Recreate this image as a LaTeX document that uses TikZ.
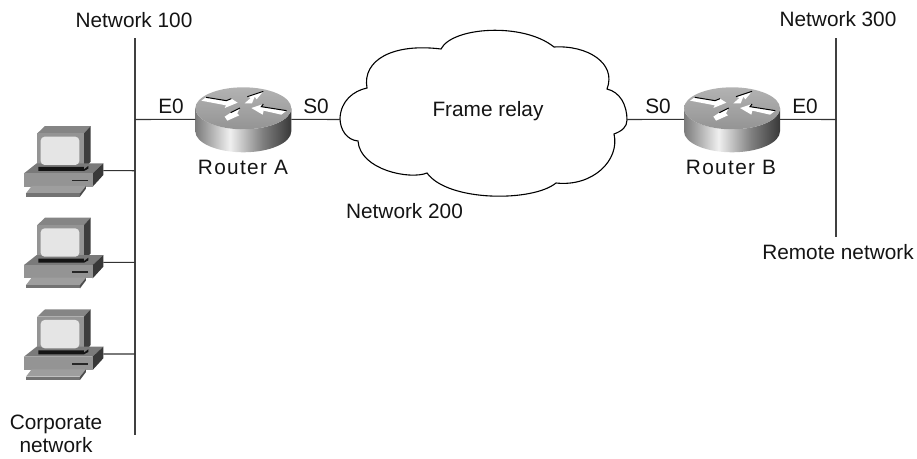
\documentclass[tikz,border=0pt]{standalone}
\usepackage{fontspec}
\setmainfont{Liberation Sans}
\newfontfamily\spacedfont[LetterSpace=6.5]{Liberation Sans}
\pgfdeclarehorizontalshading{routerbody}{100bp}{color(0bp)=(black!52); color(25bp)=(black!52); color(43bp)=(black!6); color(60bp)=(black!50); color(75bp)=(black!78); color(100bp)=(black!78)}
\begin{document}
\begin{tikzpicture}[x=1pt,y=-1pt,
  lbl/.style={font=\fontsize{20.8}{23}\selectfont,inner sep=0pt,align=center,text=black!92},
  rlbl/.style={font=\fontsize{20.8}{23}\spacedfont,inner sep=0pt,text=black!92},
  link/.style={line width=1.1pt,draw=black!80},
  netbus/.style={line width=1.4pt,draw=black!75},
  cloudline/.style={line width=1.1pt,draw=black},
  arrowfill/.style={fill=white},
  arrowedge/.style={line width=1pt,draw=black},
  pics/computer/.style={code={
    \begin{scope}[x=0.3333pt,y=-0.3333pt]
    \fill[black!48] (82,70)--(105,48)--(242,48)--(222,70)--cycle;
    \fill[black!76] (222,70)--(242,48)--(242,155)--(222,178)--cycle;
    \fill[black!42] (82,70)rectangle(222,178);
    \fill[black!52] (42,190)--(80,160)--(280,160)--(248,190)--cycle;
    \fill[black!78] (248,190)--(280,160)--(280,195)--(248,230)--cycle;
    \fill[black!42] (42,190)rectangle(248,230);
    \fill[black!92] (85,171)--(222,171)--(222,178)--(235,168)--(235,176)--(222,183)--(85,183)--cycle;
    \fill[black!10,rounded corners=4pt] (92,80)rectangle(208,165);
    \fill[black!85] (185,209)rectangle(235,214);
    \fill[black!38] (65,228)--(228,228)--(210,250)--(48,250)--cycle;
    \fill[black!55] (48,250)rectangle(210,260);
    \fill[black!70] (210,250)--(228,228)--(228,236)--(210,260)--cycle;
    \coordinate (-port) at (280,182);
    \end{scope}
  }},
  pics/routerbox/.style={code={
    \shade[shading=routerbody]
      (-48,0) .. controls (-48,11.6) and (-26.5,21) .. (0,21)
      .. controls (26.5,21) and (48,11.6) .. (48,0) -- (48,23)
      .. controls (48,34.6) and (26.5,44) .. (0,44)
      .. controls (-26.5,44) and (-48,34.6) .. (-48,23) -- cycle;
    \shade[top color=black!30,bottom color=black!42] (0,0) ellipse[x radius=48,y radius=21];
    \begin{scope}[xshift=-51.3pt,yshift=24.3pt,x=0.3333pt,y=-0.3333pt]
      \fill[arrowfill] (28,50)--(42,40)--(103,50)--(118,44)--(137,56)--(98,72)--(102,64)--cycle;
      \draw[arrowedge] (42,40)--(103,50)--(118,44);
      \fill[arrowfill] (158,58)--(176,42)--(166,38)--(214,22)--(194,46)--(188,38)--(180,58)--cycle;
      \draw[arrowedge] (166,38)--(214,22);
      \fill[arrowfill] (178,72)--(214,60)--(208,68)--(284,80)--(268,92)--(215,80)--(212,92)--cycle;
      \draw[arrowedge] (214,60)--(208,68)--(284,80);
      \fill[arrowfill] (98,98)--(116,86)--(144,72)--(136,88)--(142,94)--(106,110)--cycle;
      \draw[arrowedge] (116,86)--(144,72);
    \end{scope}
    \coordinate (-west) at (-48,11);
    \coordinate (-east) at (48,11);
  }}]
\useasboundingbox (0,0) rectangle (917,458);
% corners of the network lines
\coordinate (leftTop) at (135,38);
\coordinate (leftBottom) at (135,435);
\coordinate (rightTop) at (836,38);
\coordinate (rightBottom) at (836,237);
\coordinate (leftTapA) at (135,119.5);
\coordinate (leftTap1) at (135,170.7);
\coordinate (leftTap2) at (135,262.4);
\coordinate (leftTap3) at (135,354);
\coordinate (rightTap) at (836,119.5);
\coordinate (cloudW) at (340,119.5);
\coordinate (cloudE) at (627,119.5);

\draw[netbus] (leftTop) -- (leftBottom);
\draw[netbus] (rightTop) -- (rightBottom);

\draw[cloudline,fill=white] (340,118)
  .. controls (341,101) and (353,91) .. (367,88)
  .. controls (362,60) and (393,43) .. (441,49)
  .. controls (452,27) and (523,22) .. (554,47)
  .. controls (587,45) and (617,63) .. (607,89)
  .. controls (620,92) and (627,105) .. (627,120)
  .. controls (627,127) and (622,131) .. (614,134)
  .. controls (620,160) and (593,187) .. (556,183)
  .. controls (533,202) and (448,202) .. (427,173)
  .. controls (410,180) and (360,170) .. (358,141)
  .. controls (347,140) and (340,130) .. (340,118) -- cycle;

\pic (routerA) at (243.3,108.3) {routerbox};
\pic (routerB) at (732,108.3) {routerbox};
\pic (pcOne) at (10,110) {computer};
\pic (pcTwo) at (10,201.7) {computer};
\pic (pcThree) at (10,293.3) {computer};

\draw[link] (leftTapA) -- (routerA-west);
\draw[link] (routerA-east) -- (cloudW);
\draw[link] (cloudE) -- (routerB-west);
\draw[link] (routerB-east) -- (rightTap);
\draw[link] (pcOne-port) -- (leftTap1);
\draw[link] (pcTwo-port) -- (leftTap2);
\draw[link] (pcThree-port) -- (leftTap3);

\node[lbl] (n100) at (134,20) {Network 100};
\node[lbl] (n300) at (838,19) {Network 300};
\node[lbl] (n200) at (404.5,211) {Network 200};
\node[lbl] (frame) at (488,111) {Frame relay};
\node[lbl] (e0a) at (171,106) {E0};
\node[lbl] (s0a) at (316,106) {S0};
\node[lbl] (s0b) at (658,106) {S0};
\node[lbl] (e0b) at (805,106) {E0};
\node[rlbl] (ra) at (243,167) {Router A};
\node[rlbl] (rb) at (731,167) {Router B};
\node[lbl] (remote) at (838,252) {Remote network};
\node[lbl] (corp) at (56,434) {Corporate\\network};
\end{tikzpicture}
\end{document}
